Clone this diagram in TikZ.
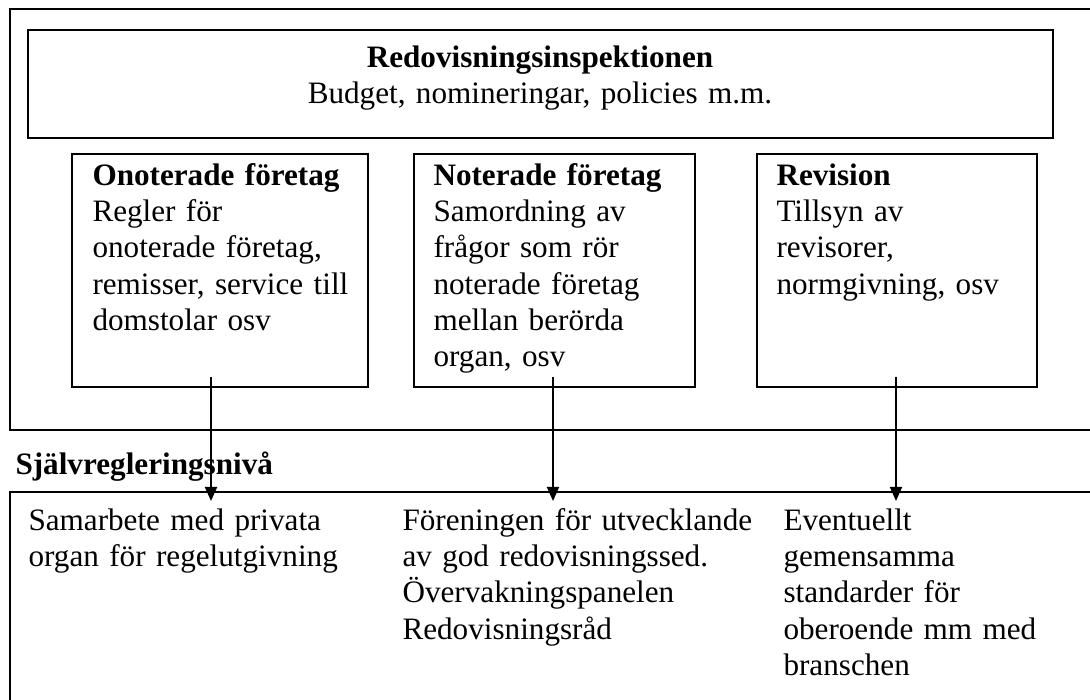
\documentclass[tikz,border=0pt]{standalone}
\usepackage{fontspec}
\setmainfont{Liberation Serif}
\usetikzlibrary{arrows.meta}

% one pixel of the layout grid
\newcommand{\pxl}[1]{#1*0.385pt}

\tikzset{
  ram/.style={draw, line width=0.8pt, rectangle, anchor=north west, inner sep=0pt},
  brodtext/.style={anchor=base west, align=left, inner sep=0pt},
  pil/.style={line width=0.8pt, -{Triangle[width=4.6pt,length=5.4pt]}}
}

\begin{document}
\begin{tikzpicture}[x=0.385pt, y=-0.385pt, every node/.style={font=\fontsize{12}{14}\selectfont}]
            \clip[use as bounding box] (0,0) rectangle (1090,700);
            % frames
            \node[ram, minimum width=\pxl{1200}, minimum height=\pxl{421}] (myndighet) at (9,8) {};
            \node[ram, minimum width=\pxl{1025}, minimum height=\pxl{108}] (insp) at (27,29) {};
            \node[ram, minimum width=\pxl{296}, minimum height=\pxl{233}] (onoterade) at (71,153) {};
            \node[ram, minimum width=\pxl{281}, minimum height=\pxl{233}] (noterade) at (413,153) {};
            \node[ram, minimum width=\pxl{280}, minimum height=\pxl{233}] (revision) at (756,153) {};
            \node[ram, minimum width=\pxl{1200}, minimum height=\pxl{300}] (sjalv) at (9,491) {};
            % texts
            \node[anchor=base, align=center, inner sep=0pt, text width=\pxl{1000}] (insp-text) at (540,67)
              {\textbf{Redovisningsinspektionen}\\Budget, nomineringar, policies m.m.};
            \node[brodtext, text width=\pxl{270}] (onoterade-text) at (92,185)
              {\textbf{Onoterade företag}\\Regler för\\onoterade företag,\\remisser, service till\\domstolar osv};
            \node[brodtext, text width=\pxl{255}] (noterade-text) at (433,185)
              {\textbf{Noterade företag}\\Samordning av\\frågor som rör\\noterade företag\\mellan berörda\\organ, osv};
            \node[brodtext, text width=\pxl{255}] (revision-text) at (776,185)
              {\textbf{Revision}\\Tillsyn av\\revisorer,\\normgivning, osv};
            \node[brodtext] (sjalv-rubrik) at (15,474) {\textbf{Självregleringsnivå}};
            \node[brodtext, text width=\pxl{360}] (samarbete) at (28,530)
              {Samarbete med privata\\organ för regelutgivning};
            \node[brodtext, text width=\pxl{360}] (foreningen) at (402,530)
              {Föreningen för utvecklande\\av god redovisningssed.\\Övervakningspanelen\\Redovisningsråd};
            \node[brodtext, text width=\pxl{290}] (eventuellt) at (783,530)
              {Eventuellt\\gemensamma\\standarder för\\oberoende mm med\\branschen};
            % arrows down to the self-regulation level
            \coordinate (onoterade-ut) at (211,377);
            \coordinate (onoterade-in) at (211,501);
            \coordinate (noterade-ut) at (553,377);
            \coordinate (noterade-in) at (553,501);
            \coordinate (revision-ut) at (896,377);
            \coordinate (revision-in) at (896,501);
            \draw[pil] (onoterade-ut) -- (onoterade-in);
            \draw[pil] (noterade-ut) -- (noterade-in);
            \draw[pil] (revision-ut) -- (revision-in);
          \end{tikzpicture}
\end{document}
